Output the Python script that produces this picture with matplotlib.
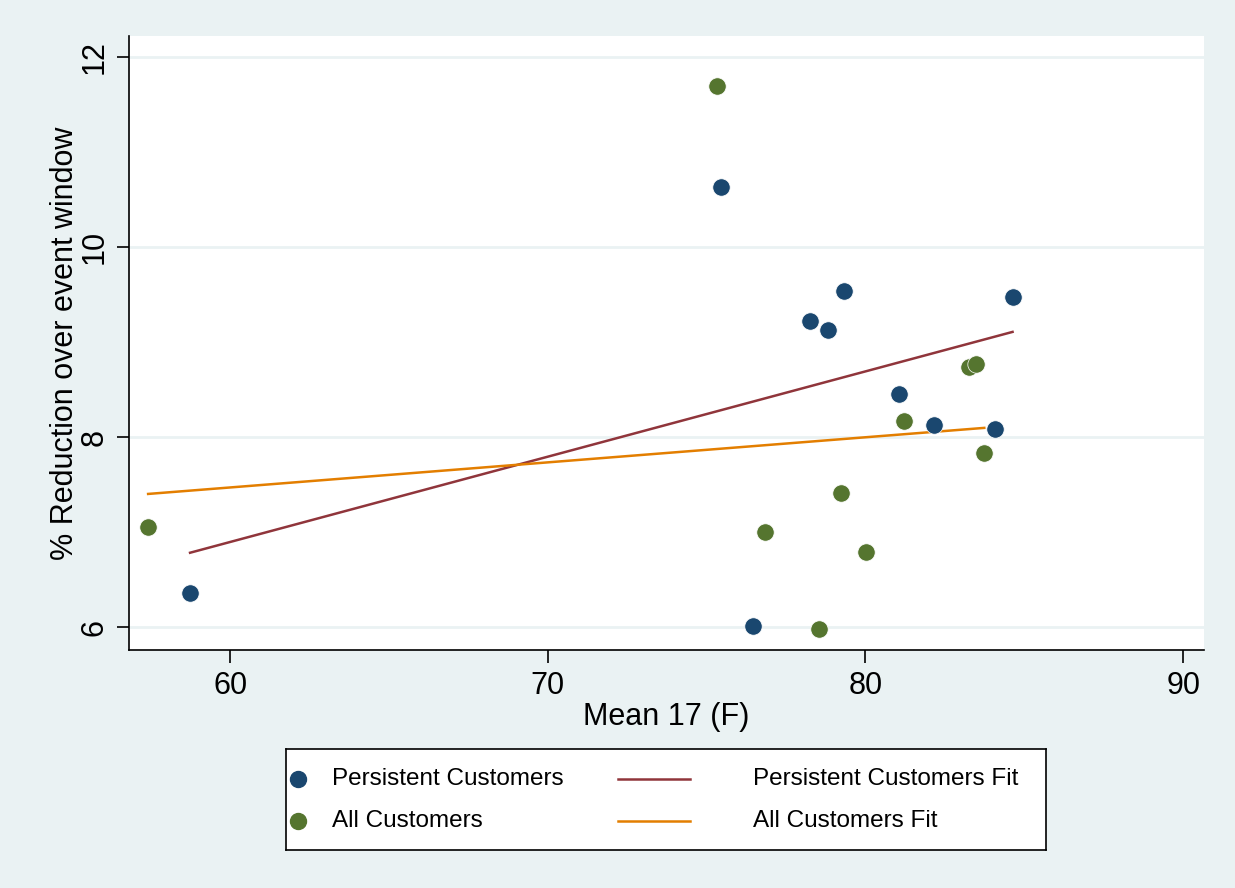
import numpy as np
import matplotlib
matplotlib.use("Agg")
import matplotlib.pyplot as plt
from matplotlib.lines import Line2D

plt.rcParams['font.family'] = ['Liberation Sans', 'DejaVu Sans']

# mean temperature (F) vs % reduction, per group
persist_x = [58.74, 75.46, 76.47, 78.26, 78.83, 79.34, 81.04, 82.17, 84.09, 84.63]
persist_y = [6.36, 10.63, 6.01, 9.22, 9.13, 9.54, 8.45, 8.13, 8.09, 9.47]

all_x = [57.42, 75.33, 76.84, 78.54, 79.23, 80.03, 81.22, 83.27, 83.49, 83.74]
all_y = [7.05, 11.69, 7.00, 5.98, 7.41, 6.79, 8.17, 8.74, 8.77, 7.83]

x_ticks = [60, 70, 80, 90]
y_ticks = [6, 8, 10, 12]

labels = ["Persistent Customers", "All Customers",
          "Persistent Customers Fit", "All Customers Fit"]

navy = "#1A476F"
green = "#55752F"
maroon = "#90353B"
orange = "#E37E00"
bg = "#EAF2F3"

fig = plt.figure(figsize=(12.35, 8.88), dpi=100, facecolor=bg)
ax = fig.add_axes([0.1045, 0.268, 0.8705, 0.6915])
ax.set_facecolor("white")

for y in y_ticks:
    ax.axhline(y, color=bg, lw=2, zorder=0)

ax.plot(persist_x, persist_y, 'o', color=navy, ms=12.5, mec="white", mew=0.5, zorder=3)
ax.plot(all_x, all_y, 'o', color=green, ms=12.5, mec="white", mew=0.5, zorder=3)

# linear fits over each group's range
for xs, ys, c in [(persist_x, persist_y, maroon), (all_x, all_y, orange)]:
    b, a = np.polyfit(xs, ys, 1)
    xx = np.array([min(xs), max(xs)])
    ax.plot(xx, a + b * xx, color=c, lw=1.8, zorder=2)

ax.set_xlim(56.82, 90.66)
ax.set_ylim(5.76, 12.22)
ax.set_xticks(x_ticks)
ax.set_yticks(y_ticks)
ax.tick_params(axis='both', length=9, width=1.2, labelsize=22, color="black")
ax.tick_params(axis='x', pad=6)
ax.tick_params(axis='y', pad=5)
plt.setp(ax.get_yticklabels(), rotation=90, va='center')

for s in ['top', 'right']:
    ax.spines[s].set_visible(False)
for s in ['left', 'bottom']:
    ax.spines[s].set_linewidth(1.2)

ax.set_xlabel("Mean 17 (F)", fontsize=22, labelpad=1)
ax.set_ylabel("% Reduction over event window", fontsize=22, labelpad=0)

# legend box
lg = fig.add_axes([0.2316, 0.0428, 0.6154, 0.1137])
lg.set_xlim(0, 1)
lg.set_ylim(0, 1)
lg.set_xticks([])
lg.set_yticks([])
for s in lg.spines.values():
    s.set_linewidth(1.2)
rows = [0.703, 0.287]
for r, c, lab in zip(rows, [navy, green], labels[:2]):
    lg.add_line(Line2D([0.0158], [r], marker='o', color=c, ms=11.5, ls='none'))
    lg.text(0.0605, r, lab, fontsize=17.5, va='center', ha='left')
for r, c, lab in zip(rows, [maroon, orange], labels[2:]):
    lg.add_line(Line2D([0.437, 0.532], [r, r], color=c, lw=1.8))
    lg.text(0.614, r, lab, fontsize=17.5, va='center', ha='left')

fig.savefig("out.png", dpi=100, facecolor=bg)
